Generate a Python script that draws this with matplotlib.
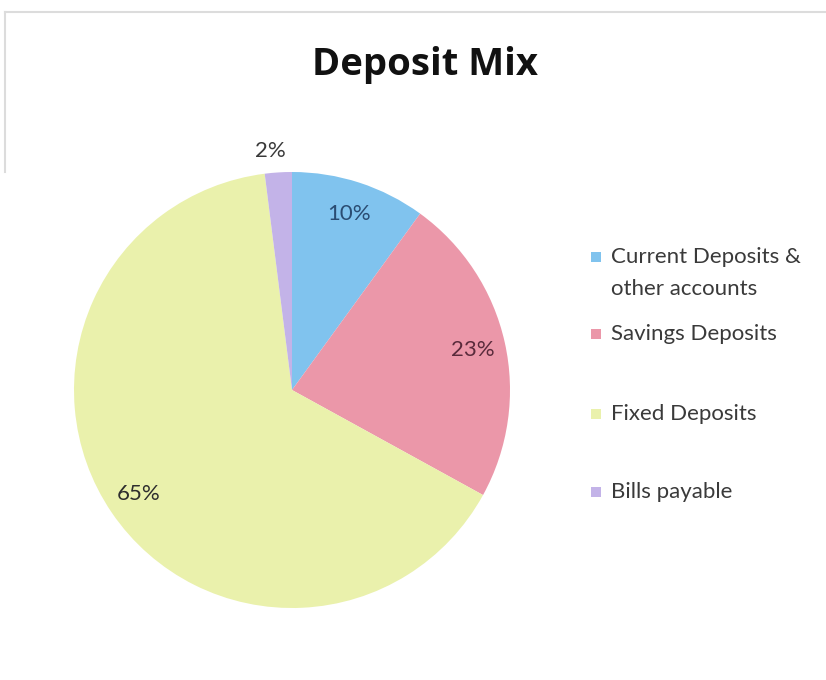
import matplotlib
matplotlib.use("Agg")
import matplotlib.pyplot as plt
from matplotlib.patches import Rectangle
from matplotlib.lines import Line2D
import numpy as np

# Deposit composition (% of total deposits)
categories = ["Current Deposits &\nother accounts", "Savings Deposits",
              "Fixed Deposits", "Bills payable"]
shares = [10, 23, 65, 2]
labels = ["10%", "23%", "65%", "2%"]

slice_colors = ["#80C3EE", "#EB97A9", "#EAF1AC", "#C3B3E8"]
label_colors = ["#2A4C72", "#5A2B3C", "#2E2E2E", "#3A3A3A"]

W, H = 826, 680
fig = plt.figure(figsize=(W / 100, H / 100), dpi=100)
fig.patch.set_facecolor("white")

# faint frame lines along top and upper-left edge
fig.add_artist(Line2D([5 / W, 1.0], [1 - 12 / H, 1 - 12 / H], color="#DCDCDC", lw=1.5))
fig.add_artist(Line2D([5 / W, 5 / W], [1 - 12 / H, 1 - 172 / H], color="#DCDCDC", lw=1.5))

fig.text(425 / W, 1 - 65 / H, "Deposit Mix", ha="center", va="center",
         fontsize=27.5, fontweight="bold", family="Open Sans", color="#111111")

cx, cy, r = 292, 390, 218
ax = fig.add_axes([(cx - r) / W, 1 - (cy + r) / H, 2 * r / W, 2 * r / H])
wedges, _ = ax.pie(shares, colors=slice_colors, startangle=90, counterclock=False,
                   radius=1.0, wedgeprops=dict(linewidth=0))
ax.set_xlim(-1, 1)
ax.set_ylim(-1, 1)
ax.set_aspect("equal")
ax.axis("off")

for w, lab, col in zip(wedges, labels, label_colors):
    mid = np.deg2rad((w.theta1 + w.theta2) / 2)
    small = lab == "2%"
    dist = 1.10 if small else 0.85
    ax.text(dist * np.cos(mid) - (0.03 if small else 0), dist * np.sin(mid), lab,
            ha="center", va="center", fontsize=16, family="Lato",
            color=col, clip_on=False)

# legend drawn by hand; each swatch sits beside the first line of its label
legend_y = [257, 334, 414, 492]
text_kw = dict(ha="left", va="center", fontsize=16, family="Lato",
               color="#3A3A3A")
for cat, col, y in zip(categories, slice_colors, legend_y):
    fig.add_artist(Rectangle((591 / W, 1 - (y - 5) / H), 10 / W, -10 / H,
                             transform=fig.transFigure, facecolor=col, edgecolor="none"))
    for i, line in enumerate(cat.split("\n")):
        fig.text(611 / W, 1 - (y + 32 * i) / H, line, **text_kw)

fig.savefig("out.png", dpi=100, facecolor="white")
